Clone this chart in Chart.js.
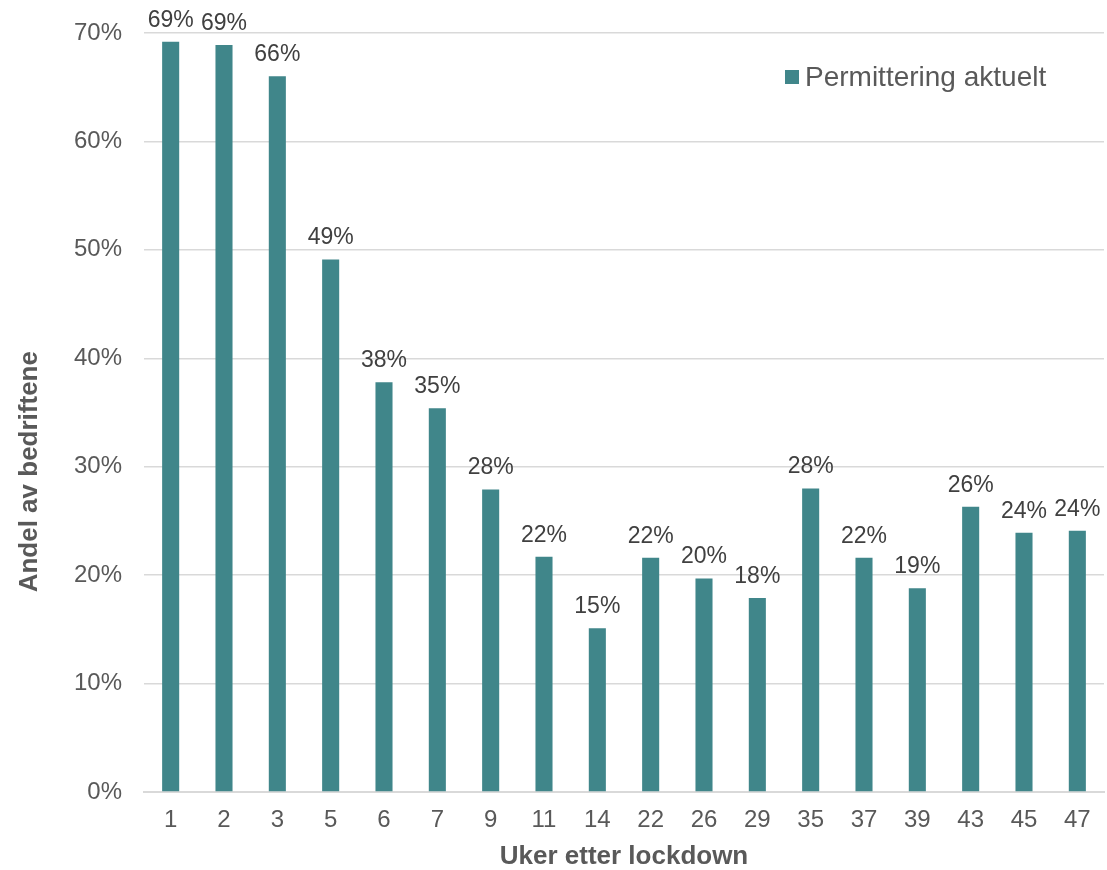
<!DOCTYPE html>
<html>
<head>
<meta charset="utf-8">
<script src="https://cdn.jsdelivr.net/npm/chart.js@4"></script>
<style>
    html, body { margin: 0; padding: 0; background: #fff; }
    #wrap { width: 1107px; height: 870px; }
</style>
</head>
<body>
<div id="wrap"><canvas id="permChart"></canvas></div>
<script>
// Uker etter lockdown
const weeks = ["1", "2", "3", "5", "6", "7", "9", "11", "14", "22", "26", "29", "35", "37", "39", "43", "45", "47"];
// Andel av bedriftene med permittering (%)
const permittering = [69.2, 68.9, 66.0, 49.1, 37.8, 35.4, 27.9, 21.7, 15.1, 21.6, 19.7, 17.9, 28.0, 21.6, 18.8, 26.3, 23.9, 24.1];
const yTicks = [0, 10, 20, 30, 40, 50, 60, 70];

const fontFamily = "'Liberation Sans', Arial, sans-serif";
const textColor = "#595959";
const barColor = "#40868a";

// Value labels above bars
const barLabels = {
    id: "barLabels",
    afterDatasetsDraw(chart) {
        const ctx = chart.ctx;
        const meta = chart.getDatasetMeta(0);
        ctx.save();
        ctx.font = "23px " + fontFamily;
        ctx.fillStyle = "#404040";
        ctx.textAlign = "center";
        ctx.textBaseline = "bottom";
        meta.data.forEach((bar, i) => {
            ctx.fillText(Math.round(permittering[i]) + "%", bar.x, bar.y - 10);
        });
        ctx.restore();
    },
};

// Legend inside plot area (top right) and y axis title
const extras = {
    id: "extras",
    afterDraw(chart) {
        const ctx = chart.ctx;
        const area = chart.chartArea;
        const x = area.right - 319;
        const y = area.top + 44;
        ctx.save();
        ctx.fillStyle = barColor;
        ctx.fillRect(x, y - 7, 14, 14);
        ctx.font = "28px " + fontFamily;
        ctx.fillStyle = textColor;
        ctx.textAlign = "left";
        ctx.textBaseline = "middle";
        ctx.fillText(chart.data.datasets[0].label, x + 20, y + 1);

        // y title sits a bit below the plot's middle
        ctx.translate(30, area.top + (area.bottom - area.top) * 0.578);
        ctx.rotate(-Math.PI / 2);
        ctx.font = "bold 26px " + fontFamily;
        ctx.textAlign = "center";
        ctx.fillText("Andel av bedriftene", 0, 0);
        ctx.restore();
    },
};

new Chart(document.getElementById("permChart"), {
    type: "bar",
    data: {
        labels: weeks,
        datasets: [
            {
                label: "Permittering aktuelt",
                data: permittering,
                backgroundColor: barColor,
                barPercentage: 0.32,
                categoryPercentage: 1,
            },
        ],
    },
    options: {
        responsive: true,
        maintainAspectRatio: false,
        animation: false,
        layout: {
            padding: { top: 33, right: 3, left: 0, bottom: 0 },
        },
        plugins: {
            legend: { display: false },
            tooltip: { enabled: false },
        },
        scales: {
            x: {
                grid: { display: false, drawTicks: false },
                border: { color: "#d9d9d9", width: 2 },
                ticks: {
                    color: textColor,
                    font: { family: fontFamily, size: 24 },
                    padding: 14,
                },
                title: {
                    display: true,
                    text: "Uker etter lockdown",
                    color: textColor,
                    font: { family: fontFamily, size: 26, weight: "bold", lineHeight: 1 },
                    padding: { top: 2, bottom: 0 },
                },
                afterFit(scale) {
                    scale.height = 78;
                    scale.paddingLeft = 0;
                    scale.paddingRight = 0;
                },
            },
            y: {
                min: 0,
                max: 70,
                afterBuildTicks(scale) {
                    scale.ticks = yTicks.map((v) => ({ value: v }));
                },
                grid: { color: "#d9d9d9", lineWidth: 1.5, drawTicks: false },
                border: { display: false },
                ticks: {
                    color: textColor,
                    font: { family: fontFamily, size: 24 },
                    padding: 22,
                    callback: (v) => v + "%",
                },
                afterFit(scale) {
                    scale.width = 144;
                    scale.paddingTop = 0;
                    scale.paddingBottom = 0;
                },
            },
        },
    },
    plugins: [barLabels, extras],
});
</script>
</body>
</html>
